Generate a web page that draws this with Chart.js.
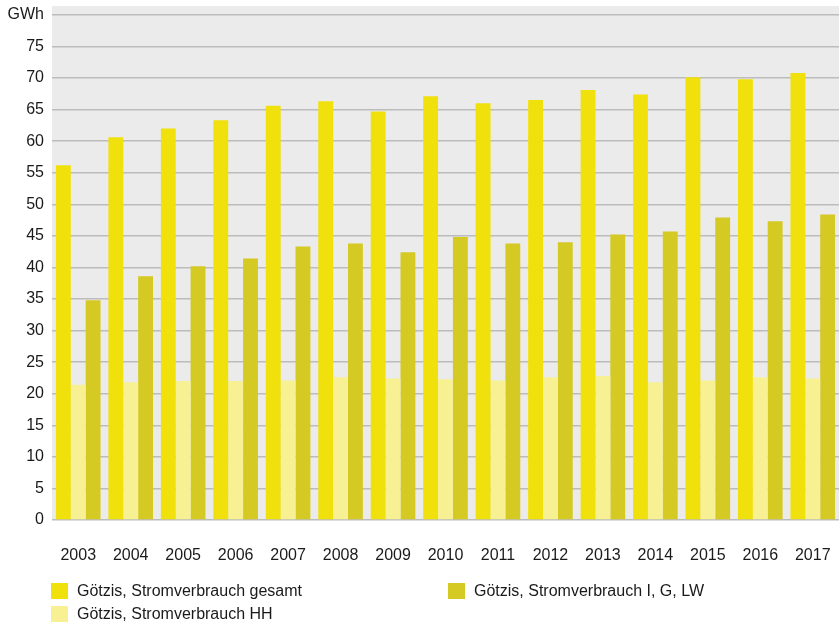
<!DOCTYPE html>
<html>
<head>
<meta charset="utf-8">
<script src="https://cdn.jsdelivr.net/npm/chart.js@4/dist/chart.umd.min.js"></script>
<style>
  html, body { margin: 0; padding: 0; background: #fff; }
  #wrap { position: relative; width: 839px; height: 627px; }
  #chartBox { position: absolute; left: 0; top: 0; width: 839px; height: 575px; }
  #legend { position: absolute; left: 0; top: 0; width: 839px; height: 627px; pointer-events: none;
    font-family: 'Liberation Sans', Arial, sans-serif; font-size: 16px; color: #1a1a1a; }
  .item { position: absolute; height: 16px; white-space: nowrap; }
  .box { position: absolute; left: 0; top: 0; width: 17px; height: 16px; }
  .txt { position: absolute; left: 26px; top: -1px; line-height: 18px; }
</style>
</head>
<body>
<div id="wrap">
  <div id="chartBox"><canvas id="chart"></canvas></div>
  <div id="legend"></div>
</div>
<script>
// --- Data ---
const years = ['2003', '2004', '2005', '2006', '2007', '2008', '2009', '2010', '2011', '2012', '2013', '2014', '2015', '2016', '2017'];
const totalUse = [56.2, 60.6, 62.0, 63.3, 65.6, 66.3, 64.7, 67.1, 66.0, 66.5, 68.1, 67.4, 70.1, 69.8, 70.8];
const householdUse = [21.4, 21.8, 22.0, 22.0, 22.1, 22.6, 22.4, 22.3, 22.1, 22.6, 22.8, 21.8, 22.1, 22.6, 22.4];
const businessUse = [34.8, 38.6, 40.2, 41.4, 43.3, 43.8, 42.4, 44.8, 43.8, 44.0, 45.2, 45.7, 47.9, 47.3, 48.4];
const seriesNames = ['Götzis, Stromverbrauch gesamt', 'Götzis, Stromverbrauch HH', 'Götzis, Stromverbrauch I, G, LW'];
const yTicks = [0, 5, 10, 15, 20, 25, 30, 35, 40, 45, 50, 55, 60, 65, 70, 75, 80];
const unitLabel = 'GWh';

// --- Styles ---
const seriesColors = ['#f0e10c', '#f7f194', '#d5c924'];
const legendSpots = [
  { left: 51, top: 583 },
  { left: 51, top: 606 },
  { left: 448, top: 583 }
];

// grey plot background
const plotBg = {
  id: 'plotBg',
  beforeDraw(chart) {
    const { ctx, chartArea: a } = chart;
    ctx.save();
    ctx.fillStyle = '#ebebeb';
    ctx.fillRect(a.left, a.top, a.right - a.left, a.bottom - a.top);
    ctx.restore();
  }
};

const ctx = document.getElementById('chart').getContext('2d');
const chart = new Chart(ctx, {
  type: 'bar',
  data: {
    labels: years,
    datasets: [
      { label: seriesNames[0], data: totalUse, backgroundColor: seriesColors[0] },
      { label: seriesNames[1], data: householdUse, backgroundColor: seriesColors[1] },
      { label: seriesNames[2], data: businessUse, backgroundColor: seriesColors[2] }
    ]
  },
  options: {
    responsive: true,
    maintainAspectRatio: false,
    animation: false,
    layout: { padding: { top: 6, right: 0, left: 0, bottom: 0 } },
    datasets: { bar: { categoryPercentage: 0.85, barPercentage: 1.0 } },
    plugins: { legend: { display: false }, tooltip: { enabled: false } },
    scales: {
      x: {
        grid: { display: false, drawTicks: false },
        border: { display: false },
        ticks: {
          padding: 26,
          color: '#1a1a1a',
          font: { family: "'Liberation Sans', Arial", size: 16 }
        },
        afterFit(scale) {
          scale.height = 55;
          scale.paddingLeft = 0;
          scale.paddingRight = 0;
        }
      },
      y: {
        min: 0,
        max: 81.4,
        grid: { color: '#bcbcbc', lineWidth: 1.5, drawTicks: false },
        border: { display: false },
        ticks: {
          padding: 8,
          color: '#1a1a1a',
          font: { family: "'Liberation Sans', Arial", size: 16 },
          callback: v => (v === 80 ? unitLabel : v)
        },
        afterBuildTicks(scale) { scale.ticks = yTicks.map(v => ({ value: v })); },
        afterFit(scale) {
          scale.width = 52;
          scale.paddingTop = 0;
          scale.paddingBottom = 0;
        }
      }
    }
  },
  plugins: [plotBg]
});

// --- Legend (two columns like the original) ---
const legendEl = document.getElementById('legend');
seriesNames.forEach((name, i) => {
  const item = document.createElement('div');
  item.className = 'item';
  item.style.left = legendSpots[i].left + 'px';
  item.style.top = legendSpots[i].top + 'px';
  item.innerHTML = `<span class="box" style="background:${seriesColors[i]}"></span><span class="txt">${name}</span>`;
  legendEl.appendChild(item);
});
</script>
</body>
</html>
